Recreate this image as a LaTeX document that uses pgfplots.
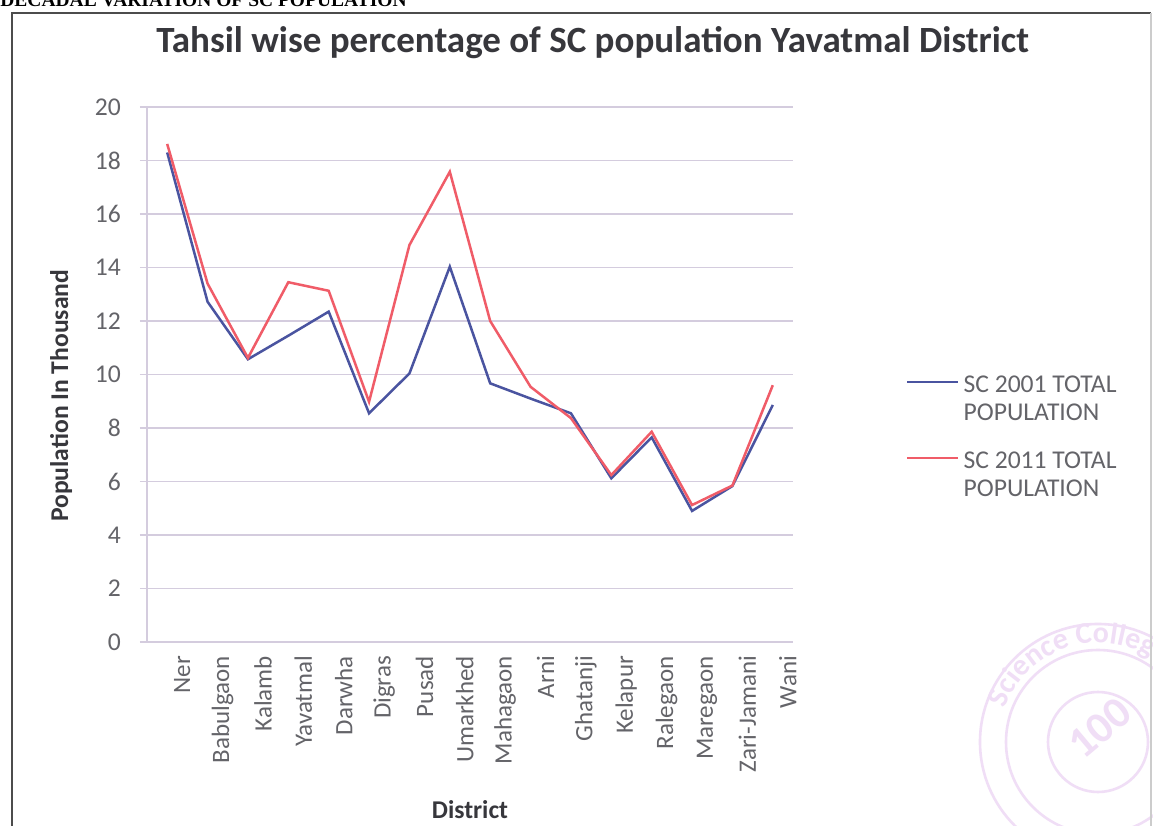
\documentclass[border=0pt]{standalone}
\usepackage{pgfplots}
\pgfplotsset{compat=1.18}
\usepackage{pgfplotstable}
\usepackage{fontspec}
\setmainfont{Carlito}
\newfontfamily\serifhead{Liberation Serif}
\usetikzlibrary{decorations.text}
\definecolor{sblue}{RGB}{74,84,160}
\definecolor{sred}{RGB}{240,92,104}
\definecolor{gridc}{RGB}{212,204,222}
\definecolor{tickc}{RGB}{100,100,105}
\definecolor{labc}{RGB}{55,55,60}
\definecolor{stampc}{RGB}{240,222,246}
\pgfplotstableread{
idx y2001 y2011
0  18.30 18.62
1  12.72 13.40
2  10.57 10.62
3  11.45 13.45
4  12.35 13.13
5  8.55  8.98
6  10.04 14.84
7  14.03 17.58
8  9.67  12.00
9  9.10  9.54
10 8.55  8.37
11 6.12  6.24
12 7.65  7.86
13 4.90  5.12
14 5.83  5.85
15 8.86  9.60
}\datatable
\begin{document}
\begin{tikzpicture}
\begin{scope}[x=0.5pt,y=-0.5pt]
\useasboundingbox (0,0) rectangle (1153,821);
\fill[white] (0,0) rectangle (1153,821);
% stamp
\begin{scope}[stampc, line width=1.3pt]
\draw (1098,742) circle (118);
\draw (1098,742) circle (92);
\draw (1098,742) circle (50);
\node[rotate=40, font=\bfseries\fontsize{22}{22}\selectfont, text=stampc] at (1100,728) {100};
\path[decorate, decoration={text along path, text={|\bfseries\fontsize{15}{15}\selectfont|Science College}, text color=stampc, text align=left}]
  (1098,742) ++(200:99) arc[start angle=200, end angle=340, radius=99];
\end{scope}
% header
\node[anchor=base west, inner sep=0pt, font=\serifhead\bfseries\fontsize{9.75}{10}\selectfont, text=black] at (0,7) {DECADAL VARIATION OF SC POPULATION};
% frame
\draw[line width=1.2pt, black!70] (12,840) -- (12,13) -- (1151,13);
\draw[line width=0.6pt, black!20] (1151,13) -- (1151,840);
\end{scope}
\begin{axis}[
  at={(73.5pt,-321pt)}, anchor=south west,
  scale only axis, width=323pt, height=267.5pt,
  xmin=-0.5, xmax=15.5, ymin=0, ymax=20,
  /pgf/number format/assume math mode=true,
  axis x line*=bottom, axis y line*=left,
  axis line style={gridc, line width=0.8pt},
  xtick={0,...,15},
  xticklabels={Ner,Babulgaon,Kalamb,Yavatmal,Darwha,Digras,Pusad,Umarkhed,Mahagaon,Arni,Ghatanji,Kelapur,Ralegaon,Maregaon,Zari-Jamani,Wani},
  xtick style={draw=none},
  xticklabel style={rotate=90, anchor=east, font=\fontsize{12.5}{13}\selectfont, text=tickc, yshift=-7.5pt},
  extra x ticks={-0.5,0.5,...,15.5},
  extra x tick labels={},
  extra x tick style={tick style={draw=gridc, line width=0.8pt}, grid=none},
  ytick={0,2,...,20},
  ymajorgrids,
  grid style={gridc, line width=0.8pt},
  ytick style={draw=gridc, line width=0.8pt},
  tick align=outside, major tick length=3.5pt,
  yticklabel style={font=\fontsize{12.8}{13}\selectfont, text=tickc, xshift=-6pt},
  title={Tahsil wise percentage of SC population Yavatmal District},
  title style={at={(rel axis cs:0.690,1.08)}, anchor=base, font=\bfseries\fontsize{18.5}{19}\selectfont, text=labc},
  xlabel={District},
  ylabel={Population In Thousand},
  every axis x label/.style={at={(rel axis cs:0.5,-0.314)}, anchor=center, font=\bfseries\fontsize{12.8}{13}\selectfont, text=labc},
  every axis y label/.style={at={(rel axis cs:-0.133,0.46)}, anchor=center, rotate=90, font=\bfseries\fontsize{12.8}{13}\selectfont, text=labc},
  legend style={at={(rel axis cs:1.165,0.516)}, anchor=north west, draw=none, fill=none, font=\fontsize{12.8}{13}\selectfont, text=tickc, row sep=23.5pt, legend cell align=left},
  legend image code/.code={\draw[#1, line width=1.2pt] (0cm,0.05cm) -- (0.9cm,0.05cm);},
]
\addplot[sblue, line width=1.25pt] table[x=idx, y=y2001] {\datatable};
\addlegendentry{\begin{tabular}[t]{@{}l@{}}SC 2001 TOTAL\\[1pt]POPULATION\end{tabular}}
\addplot[sred, line width=1.25pt] table[x=idx, y=y2011] {\datatable};
\addlegendentry{\begin{tabular}[t]{@{}l@{}}SC 2011 TOTAL\\[1pt]POPULATION\end{tabular}}
\end{axis}
\end{tikzpicture}
\end{document}
